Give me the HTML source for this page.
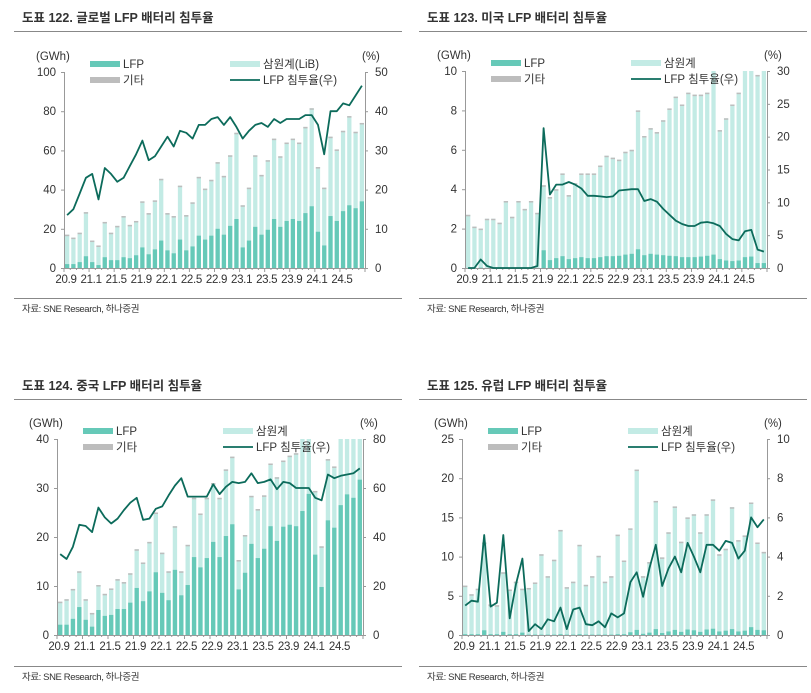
<!DOCTYPE html>
<html><head><meta charset="utf-8">
<style>
body{margin:0;background:#fff;width:811px;height:693px;overflow:hidden;font-family:"Liberation Sans","Noto Sans CJK KR",sans-serif;}
svg{position:absolute;left:0;top:0}
text{font-family:"Liberation Sans","Noto Sans CJK KR",sans-serif;fill:#333}
</style></head><body>
<svg id="s" width="811" height="693"></svg>
<script>
const labels=["20.9","21.1","21.5","21.9","22.1","22.5","22.9","23.1","23.5","23.9","24.1","24.5"];
const p1Total=[17,15.5,18,28.5,14,11.5,23.5,18,21.5,26.5,22,24,34,28,34.5,45.5,28,26.5,42,27,33.5,46.5,40.5,45,54,47,57.5,69,32,41,57.5,47.5,55,66,57,64,66,64,72,81.5,51.5,41,67,60.5,70,77.5,69.5,74];
const p1Lfp=[2,2,3,6,3,1.5,5.5,4,4,5.5,5,6.5,10.5,7,9.5,14,9,7.5,14.5,9,11,16.5,14.5,16.5,20,17,21.5,25,10.5,14,21,17,19.5,25,21,24,25,24,28,31.5,18.5,11.5,26.5,24,29,32,30.5,34];
const p1Share=[13.5,15,19,23,24,17.5,25.5,24,22,23,26,29,32.5,27.5,28.5,31,33.5,31,35,34.5,33,36.5,36.5,38,38.5,36.5,38.5,36,33,35,36.5,37,36,38,37,38,38,38,39,39,36.5,29,40,40,42,41.5,44,46.5];
const p2Total=[2.7,2.1,2.0,2.5,2.5,2.3,3.4,2.6,3.4,3.0,3.4,2.8,4.2,3.6,4.0,4.8,3.7,4.3,4.8,4.8,4.8,5.2,5.7,5.6,5.5,5.9,6.0,8.0,6.7,7.1,6.9,7.5,8.1,8.7,8.3,8.9,8.8,8.8,8.9,10.5,7.0,7.6,8.3,8.9,10.5,10.5,9.8,10.5];
const p2Lfp=[0,0,0.02,0,0,0,0,0,0,0,0,0,0.9,0.4,0.5,0.6,0.45,0.5,0.55,0.5,0.5,0.55,0.6,0.6,0.62,0.68,0.72,0.95,0.65,0.72,0.68,0.65,0.62,0.6,0.55,0.55,0.55,0.58,0.62,0.68,0.45,0.38,0.35,0.38,0.55,0.58,0.25,0.25];
const p2Share=[0,0,1.3,0.3,0,0,0,0,0,0,0,0.3,21.3,11.2,12.7,12.7,13.1,12.7,12.1,11,11,10.9,10.8,10.9,11.8,11.9,12,12,10.2,10.5,10.1,9,8.1,7.2,6.7,6.4,6.4,6.9,7.0,6.8,6.4,5.2,4.4,4.2,5.6,5.8,2.8,2.5];
const p3Total=[6.8,7.3,9.4,13,7.3,4.5,10.2,8.4,9.5,11.4,10.8,12.6,17.5,14.8,19,25,16.8,13,22.2,13,18.4,28,24.8,28,31,28,33.8,36.4,15.3,20.4,28.4,25.7,28.5,35,32.2,35.6,36.6,37.1,41,41,29.4,18.1,35.9,34.4,41,41,41,41];
const p3Lfp=[2.1,2.1,3.3,5.7,3.1,1.7,5.1,3.9,4.1,5.3,5.3,6.6,9.6,6.9,8.9,12.8,8.6,7.1,13.3,8.1,10.2,15.9,13.8,15.7,19,15.9,20.2,22.6,9.3,12.7,18.6,15.7,17.6,22.2,19.2,22.1,22.5,22.2,25.3,28.8,16.4,9.8,23.4,21.9,26.5,28.7,28,31.7];
const p3Share=[33,31,36,45,44.5,42,52,48,45.5,47.5,51,54,56,47,47.5,51.5,52.5,57,61,64,56.5,56.5,56.5,56.5,61.5,57.5,60.5,62.5,62,62.5,66,62,62.5,63.5,59.5,62.5,62,60,60,60,56,55,65.5,64,65,65.5,66,68];
const p4Total=[6.3,5.2,5.9,11.8,3.9,3.8,8.0,5.8,6.8,5.9,6.0,6.7,10.3,7.5,9.6,13.4,6.1,6.8,11.5,6.4,7.5,10.1,6.8,7.5,12.8,9.5,13.6,21.1,7.5,9.3,17.1,9.9,13.1,16.4,11.9,15.0,15.4,13.1,15.4,17.3,10.3,11.0,16.3,12.1,12.7,16.9,11.8,10.6];
const p4Lfp=[0.1,0.1,0.1,0.6,0.1,0.1,0.4,0.1,0.1,0.3,0.05,0.05,0.05,0.05,0.05,0.1,0.05,0.05,0.1,0.05,0.05,0.05,0.05,0.05,0.1,0.1,0.35,0.65,0.15,0.3,0.75,0.25,0.45,0.65,0.4,0.7,0.6,0.4,0.7,0.8,0.45,0.55,0.75,0.45,0.55,1.0,0.65,0.6];
const p4Share=[1.5,1.75,1.7,5.1,1.45,1.65,5.1,0.85,2.6,3.9,0.2,0.55,0.3,0.8,0.7,1.4,0.3,1.3,1.4,0.55,0.5,0.7,0.4,1.1,0.9,1.1,2.7,3.2,1.95,3.4,4.6,2.5,3.4,4.0,3.2,4.7,4.0,3.2,4.6,4.6,4.3,4.8,4.7,3.9,4.3,6.0,5.5,5.9];

const NS="http://www.w3.org/2000/svg";
const svg=document.getElementById('s');
function mk(tag,attrs,parent){const e=document.createElementNS(NS,tag);for(const k in attrs)e.setAttribute(k,attrs[k]);(parent||svg).appendChild(e);return e;}
function txt(x,y,s,attrs,parent){const t=mk('text',Object.assign({x:x,y:y,'font-size':11},attrs||{}),parent);t.textContent=s;return t;}

const panels=[
 {title:"도표 122. 글로벌 LFP 배터리 침투율",ox:0,oy:0,L:64,R:365,T:72,B:268,lmax:100,lstep:20,rmax:50,rstep:10,tot:p1Total,lfp:p1Lfp,sh:p1Share,ncm:"삼원계(LiB)",name:"global"},
 {title:"도표 123. 미국 LFP 배터리 침투율",ox:405,oy:0,L:465,R:767,T:71,B:268,lmax:10,lstep:2,rmax:30,rstep:5,tot:p2Total,lfp:p2Lfp,sh:p2Share,ncm:"삼원계",name:"us"},
 {title:"도표 124. 중국 LFP 배터리 침투율",ox:0,oy:368,L:57,R:363,T:439,B:635,lmax:40,lstep:10,rmax:80,rstep:20,tot:p3Total,lfp:p3Lfp,sh:p3Share,ncm:"삼원계",name:"china"},
 {title:"도표 125. 유럽 LFP 배터리 침투율",ox:405,oy:368,L:462,R:767,T:439,B:635,lmax:25,lstep:5,rmax:10,rstep:2,tot:p4Total,lfp:p4Lfp,sh:p4Share,ncm:"삼원계",name:"europe"}
];

panels.forEach(p=>{
 const g=mk('g',{});
 
 
 const t=txt(p.ox+22,p.oy+22,p.title,{'font-size':12.5,'font-weight':'bold',fill:'#111'},g);
 
 
 mk('line',{x1:p.ox+14,x2:p.ox+402,y1:p.oy+31.5,y2:p.oy+31.5,stroke:'#888','stroke-width':1},g);
 mk('line',{x1:p.ox+14,x2:p.ox+402,y1:p.oy+298.5,y2:p.oy+298.5,stroke:'#888','stroke-width':1},g);
 const src=txt(p.ox+22,p.oy+312,"자료: SNE Research, 하나증권",{'font-size':9.5,fill:'#444','letter-spacing':'-0.4'},g);
 
 
 const n=p.tot.length, slot=(p.R-p.L)/n, bw=slot*0.68;
 const yL=v=>p.B-Math.min(v,p.lmax)/p.lmax*(p.B-p.T);
 const yR=v=>p.B-v/p.rmax*(p.B-p.T);
 const xc=i=>p.L+slot*(i+0.5);
 mk('line',{x1:p.L+.5,x2:p.L+.5,y1:p.T,y2:p.B,stroke:'#999'},g);
 mk('line',{x1:p.R+.5,x2:p.R+.5,y1:p.T,y2:p.B,stroke:'#999'},g);
 mk('line',{x1:p.L,x2:p.R,y1:p.B+.5,y2:p.B+.5,stroke:'#999'},g);
 for(let v=0;v<=p.lmax+1e-9;v+=p.lstep){const y=yL(v);mk('line',{x1:p.L-3,x2:p.L,y1:y+.5,y2:y+.5,stroke:'#999'},g);
  const tl=txt(p.L-8,y+4,String(v),{'text-anchor':'end','font-size':11.5},g);}
 for(let v=0;v<=p.rmax+1e-9;v+=p.rstep){const y=yR(v);mk('line',{x1:p.R,x2:p.R+3,y1:y+.5,y2:y+.5,stroke:'#999'},g);
  const tr=txt(p.R+10,y+4,String(v),{'font-size':11.5},g);}
 for(let i=0;i<=n;i++){mk('line',{x1:p.L+slot*i,x2:p.L+slot*i,y1:p.B,y2:p.B+(i%4==0?4:2),stroke:'#999'},g);}
 labels.forEach((s,k)=>{const xl=txt(p.L+slot*4*k+2,p.B+15,s,{'text-anchor':'middle','font-size':11.5,'letter-spacing':'-0.3'},g);});
 const u1=txt(p.L-28,p.T-12,"(GWh)",{'font-size':11.5},g);
 const u2=txt(p.R-3,p.T-12,"(%)",{'font-size':11.5},g);
 for(let i=0;i<n;i++){
  const x=xc(i)-bw/2;
  const yt=yL(p.tot[i]);
  const b1=mk('rect',{x:x,y:yt,width:bw,height:p.B-yt,fill:'#c3ebe5'},g);
  
  if(p.tot[i]<=p.lmax){const c=mk('rect',{x:x,y:yt,width:bw,height:1.5,fill:'#bdbdbd'},g);}
  const yf=yL(p.lfp[i]);
  const b2=mk('rect',{x:x,y:yf,width:bw,height:p.B-yf,fill:'#66c9b8'},g);
  
 }
 const pts=p.sh.map((v,i)=>xc(i).toFixed(1)+','+yR(v).toFixed(1)).join(' ');
 const ln=mk('polyline',{points:pts,fill:'none',stroke:'#0c6b5b','stroke-width':1.8,'stroke-linejoin':'round'},g);
 
 const lx1=p.L+26, lx2=p.L+166, ly1=p.T-8, ly2=p.T+8;
 const items=[[lx1,ly1,'#66c9b8','LFP','rect'],[lx1,ly2,'#bdbdbd','기타','rect'],[lx2,ly1,'#c3ebe5',p.ncm,'rect'],[lx2,ly2,'#0c6b5b','LFP 침투율(우)','line']];
 items.forEach(it=>{
  const lg=mk('g',{},g);
  
  
  if(it[4]=='rect')mk('rect',{x:it[0],y:it[1]-3,width:30,height:6,fill:it[2]},lg);
  else mk('line',{x1:it[0],x2:it[0]+30,y1:it[1],y2:it[1],stroke:it[2],'stroke-width':1.8},lg);
  txt(it[0]+33,it[1]+4,it[3],{'font-size':11.5},lg);
 });
});
</script>
</body></html>
